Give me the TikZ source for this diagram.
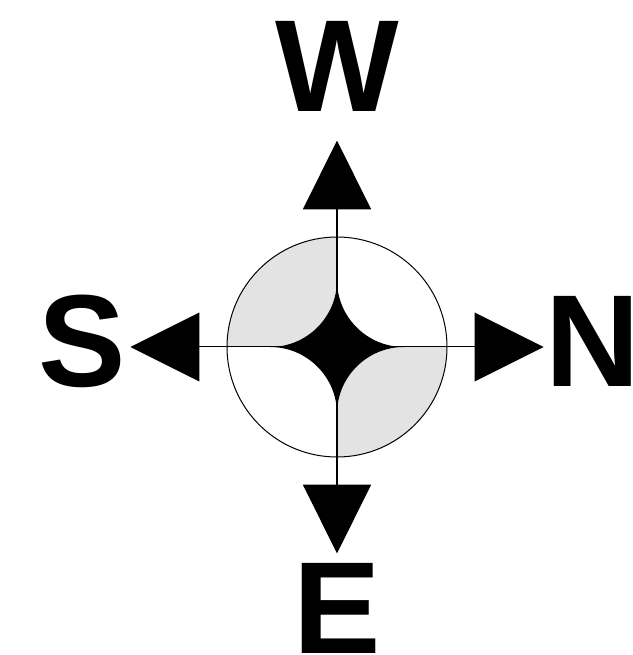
\documentclass[tikz,border=0pt]{standalone}
\usepackage{fontspec}
\setmainfont{Liberation Sans}
\usetikzlibrary{arrows.meta}

\begin{document}
\begin{tikzpicture}[
    x=1pt,
    y=1pt,
    letter/.style={font=\bfseries\fontsize{131pt}{131pt}\selectfont, inner sep=0pt, anchor=base},
    pointer/.style={draw, line width=2pt, -{Triangle[length=69pt,width=68pt]}},
    sidepointer/.style={draw, line width=1pt, -{Triangle[length=69pt,width=69pt]}},
    quarter/.style={fill=black!11}
]

% parameters
\def\R{110}     % radius of the dial
\def\r{67}      % half size of the star
\def\t{206.5}   % distance of the arrow tips

\useasboundingbox (-337,-308) rectangle (295,347);

% ---------------- dial ----------------
\coordinate (hub) at (0,0);
\fill[white] (hub) circle[radius=\R pt];
\path[quarter] (0,\R) arc[start angle=90, end angle=180, radius=\R pt]
    -- (-\r,0) arc[start angle=-90, end angle=0, radius=\r pt] -- cycle;
\path[quarter] (0,-\R) arc[start angle=270, end angle=360, radius=\R pt]
    -- (\r,0) arc[start angle=90, end angle=180, radius=\r pt] -- cycle;

% ---------------- arrows ----------------
\coordinate (tipW) at (0,\t);
\coordinate (tipE) at (0,-\t);
\coordinate (tipS) at (-\t,0);
\coordinate (tipN) at (\t,0);
\draw[sidepointer] (hub) -- (tipS);
\draw[sidepointer] (hub) -- (tipN);
\draw[pointer] (hub) -- (tipW);
\draw[pointer] (hub) -- (tipE);

% ---------------- star ----------------
\fill (0,\r) arc[start angle=0, end angle=-90, radius=\r pt]
    arc[start angle=90, end angle=0, radius=\r pt]
    arc[start angle=180, end angle=90, radius=\r pt]
    arc[start angle=270, end angle=180, radius=\r pt] -- cycle;
\draw[line width=1pt] (hub) circle[radius=\R pt];

% ---------------- letters ----------------
\node[letter] (lblW) at (0,235) {W};
\node[letter] (lblE) at (0,-306) {E};
\node[letter] (lblS) at (-255,-40) {S};
\node[letter] (lblN) at (256,-40) {N};

\end{tikzpicture}
\end{document}
